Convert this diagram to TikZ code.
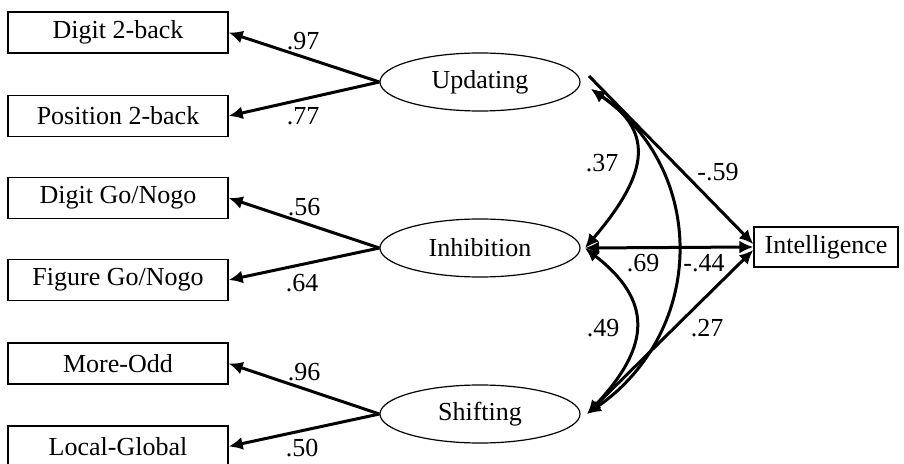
\documentclass[tikz,border=0pt]{standalone}
\usepackage{fontspec}
\setmainfont{Liberation Serif}
\usetikzlibrary{shapes.geometric,arrows.meta}

\begin{document}
\begin{tikzpicture}[%
    x=0.5pt, y=-0.5pt,
    font=\fontsize{13}{15}\selectfont,
    indikator/.style={draw, line width=0.7pt, inner sep=0pt,
        minimum width=110pt, minimum height=20.5pt},
    faktor/.style={draw, ellipse, line width=0.6pt, inner sep=0pt,
        minimum width=100pt, minimum height=29pt},
    pfeil/.style={line width=1.5pt, -{Latex[length=7pt,width=6.5pt]}},
    doppelpfeil/.style={line width=1.5pt,
        {Latex[length=7pt,width=6.5pt]}-{Latex[length=7pt,width=6.5pt]}},
    gewicht/.style={inner sep=1pt}
    ]
        \useasboundingbox (0,0) rectangle (904,464);

        % Indikatoren
        \node[indikator] (d2b) at (118,32.5)  {Digit 2-back};
        \node[indikator] (p2b) at (118,116)   {Position 2-back};
        \node[indikator] (dgn) at (118,198)   {Digit Go/Nogo};
        \node[indikator] (fgn) at (118,280)   {Figure Go/Nogo};
        \node[indikator] (mod) at (118,363.5) {More-Odd};
        \node[indikator] (lgl) at (118,446.5) {Local-Global};

        % Faktoren
        \node[faktor] (upd) at (480,82)  {Updating};
        \node[faktor] (inh) at (480,248) {Inhibition};
        \node[faktor] (shi) at (480,414) {Shifting};

        \node[indikator, minimum width=72pt, minimum height=20pt]
            (int) at (826,247) {Intelligence};

        % Hilfspunkte
        \coordinate (updA) at (589,76);
        \coordinate (updB) at (591,89);
        \coordinate (inhA) at (585,248);
        \coordinate (shiA) at (592,409);
        \coordinate (shiB) at (587,414);

        % Ladungen
        \draw[pfeil] (upd.west) -- (d2b.east);
        \draw[pfeil] (upd.west) -- (p2b.east);
        \draw[pfeil] (inh.west) -- (dgn.east);
        \draw[pfeil] (inh.west) -- (fgn.east);
        \draw[pfeil] (shi.west) -- (mod.east);
        \draw[pfeil] (shi.west) -- (lgl.east);

        % Pfade auf Intelligenz
        \draw[pfeil] (updA) -- ([yshift=1.5pt]int.west);
        \draw[doppelpfeil] (inhA) -- (int.west);
        \draw[pfeil] (shiA) -- ([yshift=-1.5pt]int.west);

        % Korrelationen
        \draw[doppelpfeil] (updB) .. controls (652,130) and (652,170) .. (inhA);
        \draw[doppelpfeil] (inhA) .. controls (652,300) and (652,345) .. (shiB);
        \draw[doppelpfeil] (updB) .. controls (707,170) and (707,330) .. (shiB);

        % Koeffizienten
        \draw   (303,41)  node[gewicht] (w97) {.97}
                (303,116) node[gewicht] (w77) {.77}
                (304,207) node[gewicht] (w56) {.56}
                (302,283) node[gewicht] (w64) {.64}
                (304,372) node[gewicht] (w96) {.96}
                (302,448) node[gewicht] (w50) {.50}
                (602,163) node[gewicht] (w37) {.37}
                (603,328) node[gewicht] (w49) {.49}
                (643,263) node[gewicht] (w69) {.69}
                (704,263) node[gewicht] (w44) {-.44}
                (718,172) node[gewicht] (w59) {-.59}
                (707,328) node[gewicht] (w27) {.27};
    \end{tikzpicture}
\end{document}
